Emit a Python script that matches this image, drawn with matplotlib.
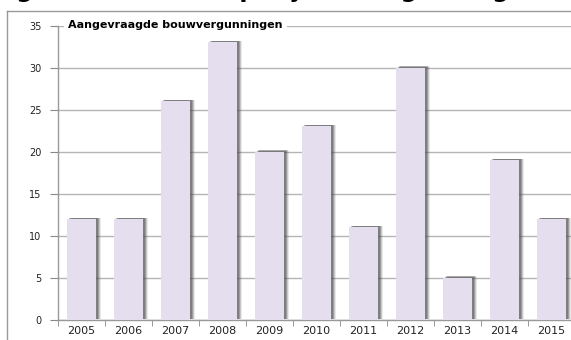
import numpy as np
import matplotlib
matplotlib.use("Agg")
import matplotlib.pyplot as plt
from matplotlib.transforms import offset_copy
from matplotlib.lines import Line2D

years = ["2005", "2006", "2007", "2008", "2009", "2010",
         "2011", "2012", "2013", "2014", "2015"]
aanvragen = [12, 12, 26, 33, 20, 23, 11, 30, 5, 19, 12]
y_ticks = [0, 5, 10, 15, 20, 25, 30, 35]

W, H = 571, 340
fig = plt.figure(figsize=(W / 100, H / 100), dpi=100)
fig.patch.set_facecolor("white")

# plot area in pixels: y-axis at x=58, zero line at y=320, 35 at y=25.5
left, right, top, bottom = 58, 575, 25.5, 320
ax = fig.add_axes([left / W, (H - bottom) / H, (right - left) / W, (bottom - top) / H])
ax.set_facecolor("white")

x = np.arange(len(years))
bar_w = 0.62

# soft drop shadow to the upper right of each bar
for dx, dy, a in [(5, 1, 0.12), (4, 1.5, 0.22), (3, 1.5, 0.35), (2, 1, 0.4)]:
    tr = offset_copy(ax.transData, fig=fig, x=dx, y=dy, units="dots")
    ax.bar(x, aanvragen, width=bar_w, color="#505050", alpha=a,
           transform=tr, zorder=2, linewidth=0)
ax.bar(x, aanvragen, width=bar_w, color="#e4deee", zorder=3, linewidth=0)

ax.set_xlim(-0.5, len(years) - 0.5)
ax.set_ylim(0, 35)
ax.set_yticks(y_ticks)
ax.set_yticklabels([str(v) for v in y_ticks], fontsize=7, color="#222222")
ax.set_xticks(x)
ax.set_xticklabels(years, fontsize=8, color="#222222")
ax.set_xticks(np.arange(-0.5, len(years), 1), minor=True)
ax.tick_params(axis="x", which="major", length=0, pad=4)
ax.tick_params(axis="x", which="minor", length=4, color="#888888", direction="out")
ax.tick_params(axis="y", length=6, color="#888888", direction="out", pad=6)
ax.yaxis.grid(True, color="#b5b5b5", linewidth=1)
ax.set_axisbelow(True)

for side in ["top", "right"]:
    ax.spines[side].set_visible(False)
for side in ["left", "bottom"]:
    ax.spines[side].set_color("#999999")
    ax.spines[side].set_linewidth(1)

ax.text(10 / (right - left), 1.0, "Aangevraagde bouwvergunningen",
        transform=ax.transAxes, ha="left", va="center", fontsize=8,
        fontweight="bold", color="black", zorder=5,
        bbox=dict(facecolor="white", edgecolor="none", pad=3))

# outer frame around the chart
fig.add_artist(Line2D([7 / W, 1], [1 - 11 / H, 1 - 11 / H], color="#999999", lw=1))
fig.add_artist(Line2D([7 / W, 7 / W], [0, 1 - 11 / H], color="#999999", lw=1))

# caption above the chart, running off the top edge
fig.text(-8 / W, 1 + 2.5 / H, "Figuur 4.1  Aantal per jaar aangevraagde bouwvergunningen",
         ha="left", va="baseline", fontsize=17, fontweight="bold", color="black")

fig.savefig("out.png", dpi=100)
